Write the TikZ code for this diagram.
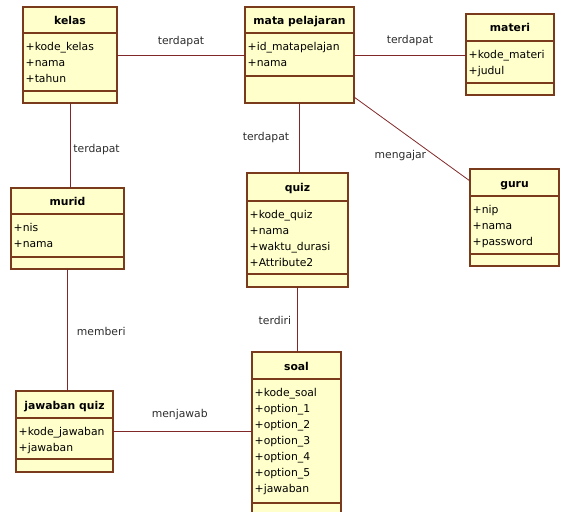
\documentclass[tikz,border=0pt]{standalone}
\usepackage{fontspec}
\setmainfont{DejaVu Sans}
\usepackage{tikz}

\definecolor{classfill}{RGB}{255,255,204}
\definecolor{classborder}{RGB}{122,58,28}
\definecolor{assoccolor}{RGB}{128,40,40}
\definecolor{labelcolor}{RGB}{45,45,45}

\tikzset{
  classbox/.style={draw=classborder, fill=classfill, line width=1.2pt, inner sep=0pt, outer sep=0pt, anchor=north west},
  classline/.style={draw=classborder, line width=1.2pt},
  classtitle/.style={font=\fontsize{10.8}{16}\selectfont\bfseries, inner sep=0pt, anchor=base},
  classattr/.style={font=\fontsize{10.8}{16}\selectfont, align=left, inner sep=0pt, anchor=north west},
  assoc/.style={draw=assoccolor, line width=0.8pt},
  lbl/.style={font=\fontsize{10.8}{13}\selectfont, text=labelcolor, inner sep=0pt}
}

% #1 name, #2 left, #3 top, #4 width, #5 height, #6 title part, #7 attribute part, #8 title, #9 attributes
\newcommand{\umlclass}[9]{%
  \node[classbox, minimum width=#4, minimum height=#5] (#1) at (#2,#3) {};
  \draw[classline] ([yshift=-#6]#1.north west) -- ([yshift=-#6]#1.north east);
  \draw[classline] ([yshift=-#6-#7]#1.north west) -- ([yshift=-#6-#7]#1.north east);
  \node[classtitle] at ([yshift=-#6/2-4.5]#1.north) {#8};
  \node[classattr] at ([xshift=2.5,yshift=-#6-9]#1.north west) {#9};
}

\begin{document}
\begin{tikzpicture}[x=1pt, y=-1pt]
  \useasboundingbox (0,0) rectangle (561,511);
  \clip (0,0) rectangle (561,511);

  \umlclass{kelas}{23}{7}{94}{96}{26}{58}{kelas}{+kode\_kelas\\+nama\\+tahun}
  \umlclass{mata}{245}{7}{109}{96}{26}{43}{mata pelajaran}{+id\_matapelajan\\+nama}
  \umlclass{materi}{466}{14}{88}{81}{27}{42}{materi}{+kode\_materi\\+judul}
  \umlclass{murid}{11}{188}{113}{81}{26}{43}{murid}{+nis\\+nama}
  \umlclass{quiz}{247}{173}{101}{114}{28}{73}{quiz}{+kode\_quiz\\+nama\\+waktu\_durasi\\+Attribute2}
  \umlclass{guru}{470}{169}{89}{97}{27}{58}{guru}{+nip\\+nama\\+password}
  \umlclass{jawaban}{16}{391}{97}{81}{27}{41}{jawaban quiz}{+kode\_jawaban\\+jawaban}
  \umlclass{soal}{252}{352}{89}{170}{27}{124}{soal}{+kode\_soal\\+option\_1\\+option\_2\\+option\_3\\+option\_4\\+option\_5\\+jawaban}

  % associations
  \draw[assoc] (kelas.east) -- node[lbl, pos=.5, above=8pt] {terdapat} (mata.west);
  \draw[assoc] (mata.east) -- node[lbl, pos=.5, above=9pt] {terdapat} (mata.east -| materi.west);
  \draw[assoc] (kelas.south) -- node[lbl, pos=.55, right=3pt] {terdapat} (kelas.south |- murid.north);
  \draw[assoc] (mata.south) -- node[lbl, pos=.49, left=10pt] {terdapat} (mata.south |- quiz.north);
  \draw[assoc] ([yshift=6]mata.south east) -- node[lbl, pos=.4, below=19pt] {mengajar} ([yshift=-12]guru.north west);
  \draw[assoc] (murid.south) -- node[lbl, pos=.51, right=9pt] {memberi} (murid.south |- jawaban.north);
  \draw[assoc] (quiz.south) -- node[lbl, pos=.52, left=6pt] {terdiri} (quiz.south |- soal.north);
  \draw[assoc] (jawaban.east) -- node[lbl, pos=.48, above=11pt] {menjawab} (jawaban.east -| soal.west);
\end{tikzpicture}
\end{document}
